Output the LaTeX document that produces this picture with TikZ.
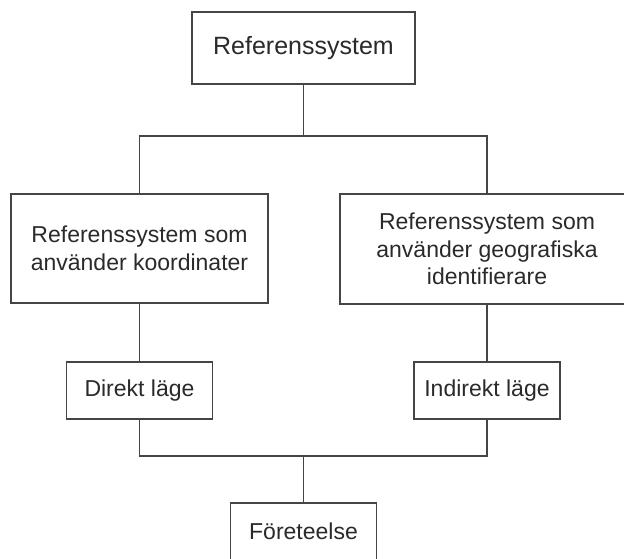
\documentclass[tikz,border=0pt]{standalone}
\usepackage{fontspec}
\setmainfont{Liberation Sans}
\begin{document}
\begin{tikzpicture}[x=1pt,y=-1pt,
  box/.style={draw=linegray, line width=1.8pt, fill=white, text=txtgray,
    align=center, inner sep=0pt, font=\fontsize{23}{27.5}\selectfont},
  wire/.style={draw=linegray, line width=1.8pt}]
  \definecolor{linegray}{HTML}{454545}
  \definecolor{txtgray}{HTML}{2A2A2A}
  \useasboundingbox (0,0) rectangle (624,559);
  \clip (0,0) rectangle (624,559);
  % boxes
  \node[box, minimum width=223pt, minimum height=72pt,
        font=\fontsize{25}{29}\selectfont] (top) at (303.5,48) {Referenssystem};
  \node[box, minimum width=257pt, minimum height=109pt] (koord) at (139.5,248.5)
    {Referenssystem som\\använder koordinater};
  \node[box, minimum width=294pt, minimum height=110pt] (geo) at (487,249)
    {Referenssystem som\\använder geografiska\\identifierare};
  \node[box, minimum width=146pt, minimum height=57pt] (direkt) at (139.5,390.5) {Direkt läge};
  \node[box, minimum width=146pt, minimum height=57pt] (indirekt) at (487,390.5) {Indirekt läge};
  \node[box, minimum width=146pt, minimum height=57pt] (fore) at (303.5,531.5) {Företeelse};
  % junctions
  \coordinate (j1) at (303.5,136);
  \coordinate (j2) at (303.5,456);
  % connectors
  \draw[wire] (top.south) -- (j1);
  \draw[wire] (koord.north) |- (j1) -| (geo.north);
  \draw[wire] (koord.south) -- (direkt.north);
  \draw[wire] (geo.south) -- (indirekt.north);
  \draw[wire] (direkt.south) |- (j2) -| (indirekt.south);
  \draw[wire] (j2) -- (fore.north);
\end{tikzpicture}
\end{document}
